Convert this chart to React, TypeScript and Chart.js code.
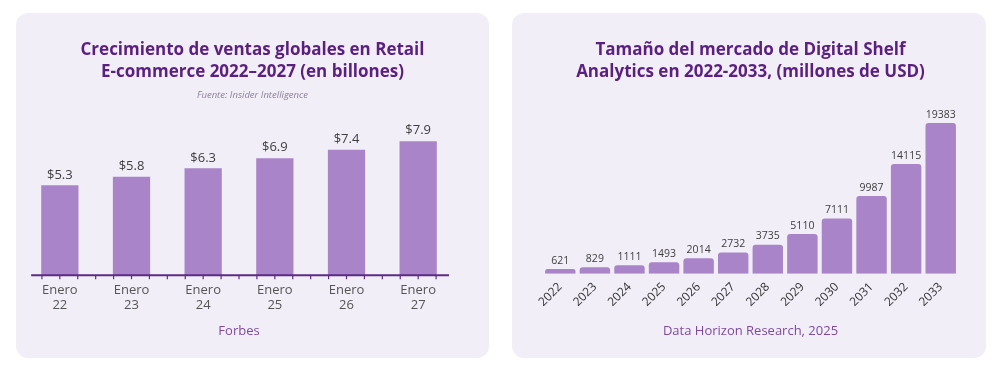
import React, { useEffect, useRef } from 'react';
import { Chart, registerables } from 'chart.js';

Chart.register(...registerables);

// ---- Data ----
const retailTitle = ['Crecimiento de ventas globales en Retail', 'E-commerce 2022–2027 (en billones)'];
const retailSubtitle = 'Fuente: Insider Intelligence';
const retailSource = 'Forbes';
const retailCategories = [['Enero', '22'], ['Enero', '23'], ['Enero', '24'], ['Enero', '25'], ['Enero', '26'], ['Enero', '27']];
const retailValues = [5.3, 5.8, 6.3, 6.9, 7.4, 7.9];

const shelfTitle = ['Tamaño del mercado de Digital Shelf', 'Analytics en 2022-2033, (millones de USD)'];
const shelfSource = 'Data Horizon Research, 2025';
const shelfYears = ['2022', '2023', '2024', '2025', '2026', '2027', '2028', '2029', '2030', '2031', '2032', '2033'];
const shelfValues = [621, 829, 1111, 1493, 2014, 2732, 3735, 5110, 7111, 9987, 14115, 19383];

// ---- Styles ----
const FONT = '"Open Sans", sans-serif';
const BAR = '#a984c9';
const TITLE = '#5a1f7f';
const AXIS = '#5e2a84';
const SOURCE = '#7d4a9f';
const CARD_BG = '#f2eef8';

const valueLabels = (fmt: (v: number) => string, size: number, offset: number) => ({
  id: 'valueLabels',
  afterDatasetsDraw(chart: any) {
    const ctx = chart.ctx;
    const meta = chart.getDatasetMeta(0);
    const data = chart.data.datasets[0].data as number[];
    ctx.save();
    ctx.font = `${size}px ${FONT}`;
    ctx.fillStyle = '#3d3d3d';
    ctx.textAlign = 'center';
    ctx.textBaseline = 'bottom';
    meta.data.forEach((bar: any, i: number) => {
      ctx.fillText(fmt(data[i]), bar.x, bar.y - offset);
    });
    ctx.restore();
  },
});

const axisLine = {
  id: 'axisLine',
  afterDatasetsDraw(chart: any) {
    const ctx = chart.ctx;
    const x = chart.scales.x;
    const y = chart.chartArea.bottom;
    const n = chart.data.labels.length;
    const step = (x.getPixelForValue(1) - x.getPixelForValue(0));
    const start = x.getPixelForValue(0) - step * 0.4;
    const end = x.getPixelForValue(n - 1) + step * 0.43;
    ctx.save();
    ctx.strokeStyle = AXIS;
    ctx.lineWidth = 2;
    ctx.beginPath();
    ctx.moveTo(start, y);
    ctx.lineTo(end, y);
    ctx.stroke();
    ctx.lineWidth = 1.2;
    for (let i = 0; i < n; i++) {
      const c = x.getPixelForValue(i);
      const pts = [c - step / 4, c, c + step / 4];
      if (i < n - 1) pts.push(c + step / 2);
      pts.forEach((p) => {
        ctx.beginPath();
        ctx.moveTo(p, y);
        ctx.lineTo(p, y + 4);
        ctx.stroke();
      });
    }
    ctx.restore();
  },
};

function RetailChart() {
  const ref = useRef<HTMLCanvasElement>(null);
  useEffect(() => {
    const chart = new Chart(ref.current!, {
      type: 'bar',
      data: {
        labels: retailCategories,
        datasets: [{
          data: retailValues,
          backgroundColor: BAR,
          barPercentage: 0.52,
          categoryPercentage: 1,
        }],
      },
      options: {
        animation: false,
        responsive: false,
        layout: { padding: { left: 8, right: 8, top: 26, bottom: 19 } },
        plugins: {
          legend: { display: false },
          tooltip: { enabled: false },
          title: {
            display: true,
            text: retailTitle,
            color: TITLE,
            font: { family: FONT, size: 17, weight: 'bold', lineHeight: 1.3 },
            padding: { top: 0, bottom: 6 },
          },
          subtitle: {
            display: true,
            text: retailSubtitle,
            color: '#8c7f98',
            font: { family: FONT, size: 9.5, style: 'italic', lineHeight: 1.2 },
            padding: { top: 0, bottom: 5 },
          },
        },
        scales: {
          x: {
            grid: { display: false, drawTicks: false },
            border: { display: false },
            ticks: { color: '#555', font: { family: FONT, size: 13, lineHeight: 1.2 }, padding: 7, maxRotation: 0 },
            title: { display: true, text: retailSource, color: SOURCE, font: { family: FONT, size: 13 }, padding: { top: 3, bottom: 0 } },
          },
          y: {
            position: 'right',
            min: 0,
            max: 10,
            grid: { display: false, drawTicks: false },
            border: { display: false },
            ticks: { display: false },
            afterFit: (s: any) => { s.width = 27; },
          },
        },
      },
      plugins: [valueLabels((v) => '$' + v.toFixed(1), 13, 4), axisLine],
    } as any);
    return () => chart.destroy();
  }, []);
  return <canvas ref={ref} width={473} height={345} style={{ width: 473, height: 345, display: 'block' }} />;
}

function ShelfChart() {
  const ref = useRef<HTMLCanvasElement>(null);
  useEffect(() => {
    const chart = new Chart(ref.current!, {
      type: 'bar',
      data: {
        labels: shelfYears,
        datasets: [{
          data: shelfValues,
          backgroundColor: BAR,
          barPercentage: 0.88,
          categoryPercentage: 1,
          borderRadius: 3,
        }],
      },
      options: {
        animation: false,
        responsive: false,
        layout: { padding: { left: 31, right: 28, top: 26, bottom: 19 } },
        plugins: {
          legend: { display: false },
          tooltip: { enabled: false },
          title: {
            display: true,
            text: shelfTitle,
            color: TITLE,
            font: { family: FONT, size: 17, weight: 'bold', lineHeight: 1.3 },
            padding: { top: 0, bottom: 35 },
          },
        },
        scales: {
          x: {
            grid: { display: false, drawTicks: false },
            border: { display: false },
            ticks: { color: '#333', font: { family: FONT, size: 12 }, padding: 6, minRotation: 45, maxRotation: 45 },
            title: { display: true, text: shelfSource, color: SOURCE, font: { family: FONT, size: 13 }, padding: { top: 8, bottom: 0 } },
          },
          y: {
            display: false,
            min: 0,
            max: 20000,
          },
        },
      },
      plugins: [valueLabels((v) => String(v), 10.5, 3)],
    } as any);
    return () => chart.destroy();
  }, []);
  return <canvas ref={ref} width={474} height={345} style={{ width: 474, height: 345, display: 'block' }} />;
}

export default function App() {
  const card: React.CSSProperties = {
    position: 'absolute',
    top: 13,
    height: 345,
    background: CARD_BG,
    borderRadius: 12,
    overflow: 'hidden',
  };
  return (
    <div style={{ position: 'fixed', left: 0, top: 0, width: 1000, height: 375, background: '#ffffff' }}>
      <div style={{ ...card, left: 16, width: 473 }}>
        <RetailChart />
      </div>
      <div style={{ ...card, left: 512, width: 474 }}>
        <ShelfChart />
      </div>
    </div>
  );
}
